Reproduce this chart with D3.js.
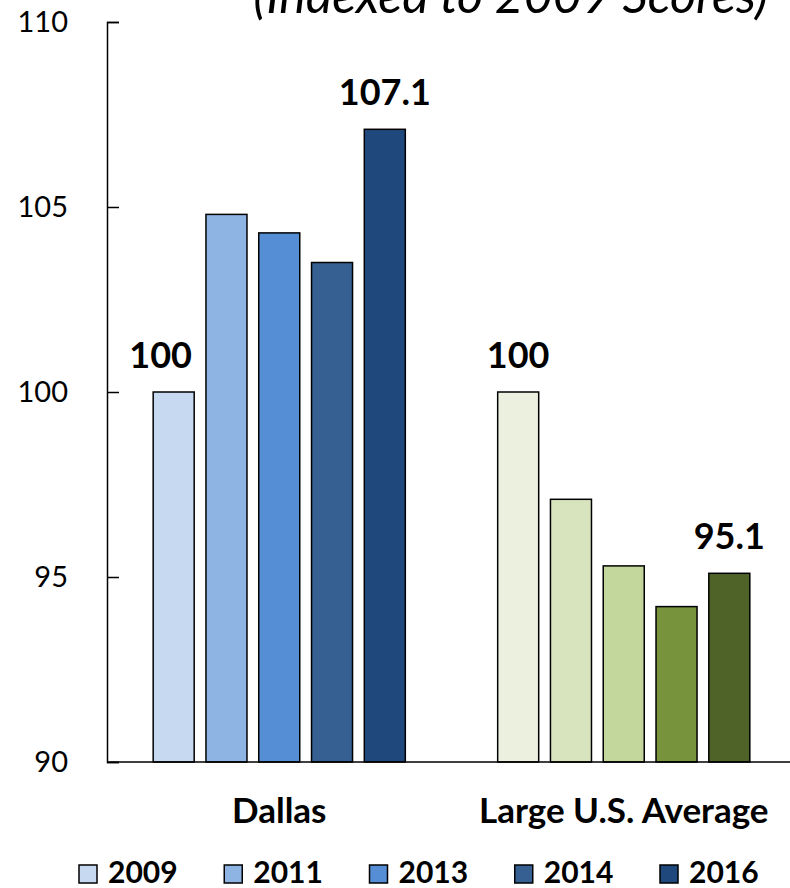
<!DOCTYPE html>
<html>
<head>
<meta charset="utf-8">
<script src="https://cdn.jsdelivr.net/npm/d3@7"></script>
<style>
  html, body { margin: 0; padding: 0; background: #fff; }
  svg { display: block; font-family: Lato, "Open Sans", sans-serif; }
</style>
</head>
<body>
<svg id="chart" width="790" height="888"></svg>
<script>
// Index scores, 2009 = 100
const groups = ["Dallas", "Large U.S. Average"];
const years = ["2009", "2011", "2013", "2014", "2016"];
const dallasValues = [100, 104.8, 104.3, 103.5, 107.1];
const largeUSValues = [100, 97.1, 95.3, 94.2, 95.1];
const dallasColors = ["#c6d9f1", "#8eb4e3", "#558ed5", "#376092", "#1f497d"];
const largeUSColors = ["#ebf1de", "#d7e4bd", "#c3d69b", "#77933c", "#4f6228"];
const yTicks = [90, 95, 100, 105, 110];
// which bars carry a value label
const labelledYears = { "Dallas": ["2009", "2016"], "Large U.S. Average": ["2009", "2016"] };

const seriesByGroup = {
  "Dallas": { values: dallasValues, colors: dallasColors },
  "Large U.S. Average": { values: largeUSValues, colors: largeUSColors }
};

const rows = [];
groups.forEach(g => {
  years.forEach((yr, i) => {
    rows.push({ group: g, year: yr, value: seriesByGroup[g].values[i], color: seriesByGroup[g].colors[i] });
  });
});

const svg = d3.select("#chart");

const x0 = d3.scaleBand().domain(groups).range([107, 796]).padding(0);
const x1 = d3.scaleBand().domain(years).range([0, x0.bandwidth()])
  .paddingInner(0.223).paddingOuter(0.875);
const y = d3.scaleLinear().domain([90, 110]).range([762, 22]);

// subtitle line (the top of it runs off the canvas)
svg.append("text")
  .attr("x", 768).attr("y", 13)
  .attr("text-anchor", "end")
  .style("font-style", "italic")
  .style("font-size", "50px")
  .attr("fill", "#000")
  .text("(Indexed to 2009 Scores)");

// bars
svg.append("g").selectAll("rect")
  .data(rows)
  .join("rect")
  .attr("x", d => x0(d.group) + x1(d.year))
  .attr("y", d => y(d.value))
  .attr("width", x1.bandwidth())
  .attr("height", d => y(90) - y(d.value))
  .attr("fill", d => d.color)
  .attr("stroke", "#000")
  .attr("stroke-width", 1.5);

// value labels
const labelled = rows.filter(d => labelledYears[d.group].includes(d.year));
svg.append("g").selectAll("text")
  .data(labelled)
  .join("text")
  .attr("x", d => x0(d.group) + x1(d.year) + x1.bandwidth() / 2 + (d.group === "Dallas" && d.year === "2009" ? -13 : 0))
  .attr("y", d => y(d.value) - 24)
  .attr("text-anchor", "middle")
  .style("font-weight", "bold")
  .style("font-size", "36px")
  .attr("fill", "#000")
  .text(d => d3.format("")(d.value));

// y axis
const yAxis = d3.axisLeft(y)
  .tickValues(yTicks)
  .tickSizeInner(-12)
  .tickSizeOuter(-12)
  .tickPadding(39)
  .tickFormat(d3.format("d"));

const yg = svg.append("g")
  .attr("transform", "translate(107,0)")
  .call(yAxis);
yg.select(".domain").attr("stroke", "#000").attr("stroke-width", 1.5);
yg.selectAll(".tick line").attr("stroke", "#000").attr("stroke-width", 1.5);
yg.selectAll(".tick text")
  .attr("fill", "#000")
  .style("font-size", "29px")
  .style("font-family", "Lato, sans-serif");

// baseline
svg.append("line")
  .attr("x1", 107).attr("x2", 790)
  .attr("y1", y(90)).attr("y2", y(90))
  .attr("stroke", "#000").attr("stroke-width", 1.5);

// group labels
svg.append("g").selectAll("text")
  .data(groups)
  .join("text")
  .attr("x", d => x0(d) + x0.bandwidth() / 2)
  .attr("y", 823)
  .attr("text-anchor", "middle")
  .style("font-weight", "bold")
  .style("font-size", "35px")
  .attr("fill", "#000")
  .text(d => d);

// legend
const legendX = d3.scalePoint().domain(years).range([79, 660]);
const leg = svg.append("g").selectAll("g")
  .data(years.map((yr, i) => ({ year: yr, color: dallasColors[i] })))
  .join("g")
  .attr("transform", d => `translate(${legendX(d.year)},865)`);
leg.append("rect")
  .attr("width", 18).attr("height", 18)
  .attr("fill", d => d.color)
  .attr("stroke", "#000").attr("stroke-width", 1.5);
leg.append("text")
  .attr("x", 29).attr("y", 18)
  .style("font-weight", "bold")
  .style("font-size", "30px")
  .attr("fill", "#000")
  .text(d => d.year);
</script>
</body>
</html>
